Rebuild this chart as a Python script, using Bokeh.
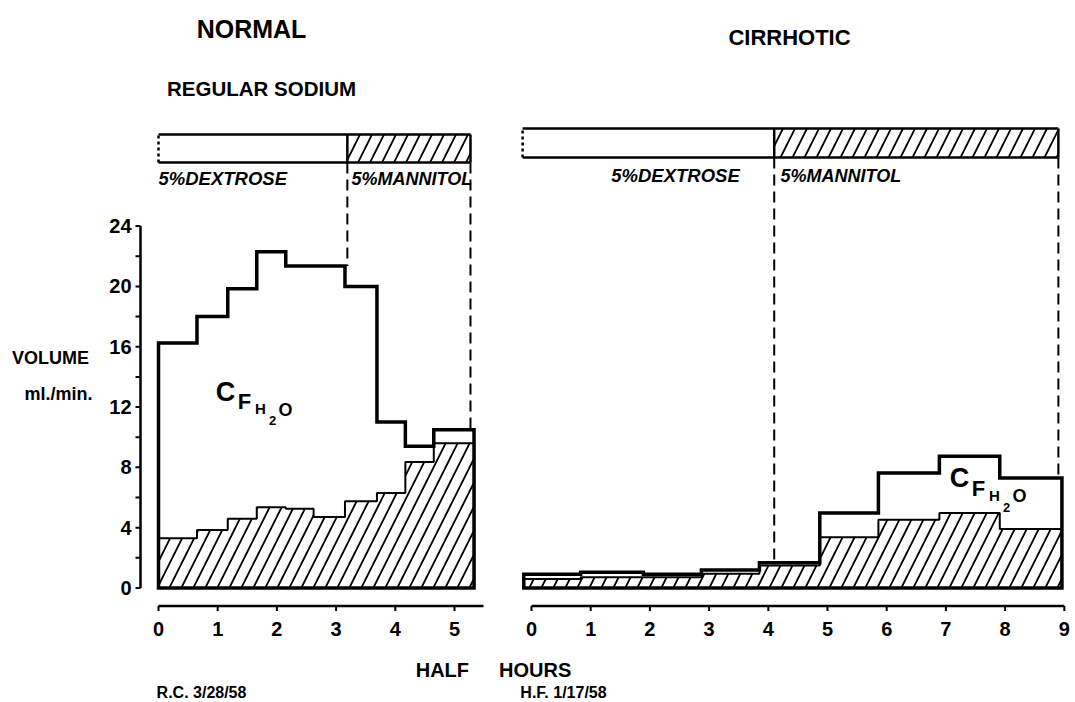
import numpy as np
from bokeh.plotting import figure
from bokeh.models import Range1d
from bokeh.core.properties import value
from bokeh.embed import file_html
from bokeh.resources import INLINE

# ---------------- data ----------------
# NORMAL subject (R.C. 3/28/58), regular sodium: half-hour collection periods
normal_edges = [0.0, 0.65, 1.17, 1.66, 2.15, 2.62, 3.15, 3.69, 4.17, 4.65, 5.33]
normal_volume = [16.25, 18.0, 19.85, 22.3, 21.35, 21.35, 20.0, 11.0, 9.4, 10.5]   # urine flow, ml/min
normal_cosm = [3.3, 3.85, 4.6, 5.35, 5.25, 4.7, 5.75, 6.3, 8.35, 9.6]             # hatched part
normal_dextrose = [0.0, 3.19]
normal_mannitol = [3.19, 5.27]

# CIRRHOTIC subject (H.F. 1/17/58)
cirr_edges = [-0.13, 0.83, 1.89, 2.87, 3.85, 4.87, 5.86, 6.89, 7.91, 8.96]
cirr_volume = [0.92, 1.05, 0.92, 1.2, 1.67, 4.97, 7.63, 8.73, 7.29]
cirr_cosm = [0.6, 0.72, 0.72, 0.94, 1.49, 3.36, 4.53, 4.97, 3.91]
cirr_dextrose = [-0.15, 4.10]
cirr_mannitol = [4.10, 8.90]

y_ticks = [0, 4, 8, 12, 16, 20, 24]
y_minor = [2, 6, 10, 14, 18, 22]
normal_x_ticks = [0, 1, 2, 3, 4, 5]
cirr_x_ticks = [0, 1, 2, 3, 4, 5, 6, 7, 8, 9]

# ---------------- layout ----------------
W, H = 1075, 702
SX = 59.2     # px per half hour
SY = 15.08    # px per ml/min
FONT = "Liberation Sans"


def lx(px):   # canvas px -> normal panel x
    return (px - 158.0) / SX


def rx(px):   # canvas px -> cirrhotic panel x
    return (px - 531.0) / SX


def dy(py):   # canvas py -> volume
    return (587.5 - py) / SY


p = figure(width=W, height=H, output_backend="svg", toolbar_location=None,
           x_range=Range1d(lx(0), lx(W)), y_range=Range1d(dy(H), dy(0)),
           x_axis_location=None, y_axis_location=None, min_border=0,
           outline_line_color=None, background_fill_color="white", border_fill_color="white")
p.extra_x_ranges = {"cirr": Range1d(rx(0), rx(W))}
p.xgrid.grid_line_color = None
p.ygrid.grid_line_color = None


def stairs(edges, vals):
    e = np.asarray(edges, dtype=float)
    v = np.asarray(vals, dtype=float)
    xs = np.repeat(e, 2)
    ys = np.concatenate([[0.0], np.repeat(v, 2), [0.0]])
    return xs, ys


def top_at(edges, vals, x):
    i = int(np.searchsorted(edges, x - 0.1)) - 1
    i = min(max(i, 0), len(vals) - 1)
    return vals[i]


def txt(x, y, s, size, style="bold", align="center", baseline="middle", rng="default",
        xo=0, yo=0):
    p.text(x=[x], y=[y], text=[s], text_font=value(FONT), text_font_size=f"{size}px",
           text_font_style=style, text_align=align, text_baseline=baseline,
           text_color="black", x_offset=xo, y_offset=yo, x_range_name=rng)


HATCH = dict(hatch_pattern="/", hatch_color="black", hatch_scale=24, hatch_weight=1.8)


def panel(edges, vol, cosm, dex, man, rng, bar_bottom, bar_top, cf_anchor):
    # hatched (osmolar) part
    xs, ys = stairs(edges, cosm)
    p.patch(xs, ys, fill_color="white", line_color="black", line_width=2,
            x_range_name=rng, **HATCH)
    # total volume outline
    xs, ys = stairs(edges, vol)
    p.patch(xs, ys, fill_color=None, line_color="black", line_width=3.5,
            line_join="miter", x_range_name=rng)

    # infusion bar
    p.quad(left=[dex[0]], right=[dex[1]], bottom=[bar_bottom], top=[bar_top],
           fill_color="white", line_color=None, x_range_name=rng)
    p.quad(left=[man[0]], right=[man[1]], bottom=[bar_bottom], top=[bar_top],
           fill_color="white", line_color=None, x_range_name=rng, **HATCH)
    p.multi_line(xs=[[dex[0], man[1]], [dex[0], man[1]], [man[0], man[0]], [man[1], man[1]]],
                 ys=[[bar_top, bar_top], [bar_bottom, bar_bottom],
                     [bar_bottom, bar_top], [bar_bottom, bar_top]],
                 line_color="black", line_width=2.5, x_range_name=rng)
    p.segment(x0=[dex[0]], y0=[bar_bottom], x1=[dex[0]], y1=[bar_top], line_color="black",
              line_width=2.5, line_dash="3 3", x_range_name=rng)

    # dashed guides from the bar down to the curve
    for xv in man:
        p.segment(x0=[xv], y0=[bar_bottom], x1=[xv], y1=[top_at(edges, vol, xv)],
                  line_color="black", line_width=2, line_dash="11 6", x_range_name=rng)

    # C F H2O label
    ax, ay = cf_anchor
    txt(ax, ay, "C", 27, rng=rng)
    txt(ax, ay, "F", 22, rng=rng, xo=19, yo=10)
    txt(ax, ay, "H", 15, rng=rng, xo=35, yo=17)
    txt(ax, ay, "2", 13, rng=rng, xo=47, yo=29)
    txt(ax, ay, "O", 18, rng=rng, xo=60, yo=18)


panel(normal_edges, normal_volume, normal_cosm, normal_dextrose, normal_mannitol,
      "default", dy(162), dy(134), (lx(225), dy(391)))
panel(cirr_edges, cirr_volume, cirr_cosm, cirr_dextrose, cirr_mannitol,
      "cirr", dy(157), dy(128), (rx(959), dy(477.5)))

# ---------------- axes ----------------
yax = lx(140)
tick_w = 5.0 / SX
p.segment(x0=[yax], y0=[y_ticks[0]], x1=[yax], y1=[y_ticks[-1]], line_color="black", line_width=2.5)
all_y = y_ticks + y_minor
p.segment(x0=[yax] * len(all_y), y0=all_y, x1=[yax - tick_w] * len(all_y), y1=all_y,
          line_color="black", line_width=2)
p.text(x=[lx(131)] * len(y_ticks), y=y_ticks, text=[str(t) for t in y_ticks],
       text_font=value(FONT), text_font_size="20px", text_font_style="bold",
       text_align="right", text_baseline="middle", text_color="black")

xay = dy(605.5)
tick_h = 5.0 / SY
for ticks, x_end, rng in ((normal_x_ticks, lx(483), "default"),
                          (cirr_x_ticks, cirr_x_ticks[-1], "cirr")):
    p.segment(x0=[ticks[0]], y0=[xay], x1=[x_end], y1=[xay], line_color="black",
              line_width=2.5, x_range_name=rng)
    p.segment(x0=ticks, y0=[xay] * len(ticks), x1=ticks, y1=[xay - tick_h] * len(ticks),
              line_color="black", line_width=2, x_range_name=rng)
    p.text(x=ticks, y=[dy(628)] * len(ticks), text=[str(t) for t in ticks],
           text_font=value(FONT), text_font_size="20px", text_font_style="bold",
           text_align="center", text_baseline="middle", text_color="black", x_range_name=rng)

# ---------------- texts ----------------
txt(lx(251), dy(28), "NORMAL", 25)
txt(rx(789), dy(37), "CIRRHOTIC", 22, rng="cirr")
txt(lx(261), dy(88), "REGULAR SODIUM", 20.5)
txt(lx(158), dy(178), "5%DEXTROSE", 18.5, style="bold italic", align="left")
txt(lx(351), dy(178), "5%MANNITOL", 18, style="bold italic", align="left")
txt(rx(675), dy(175), "5%DEXTROSE", 18.5, style="bold italic", rng="cirr")
txt(rx(780), dy(175), "5%MANNITOL", 18, style="bold italic", align="left", rng="cirr")
txt(lx(50), dy(357), "VOLUME", 18)
txt(lx(58), dy(393), "ml./min.", 18)
txt(lx(493), dy(669), "HALF\u2003\u2002HOURS", 20)
txt(lx(201), dy(692), "R.C. 3/28/58", 16)
txt(rx(563), dy(692), "H.F. 1/17/58", 16, rng="cirr")

open("out.html", "w").write(file_html(p, INLINE))
